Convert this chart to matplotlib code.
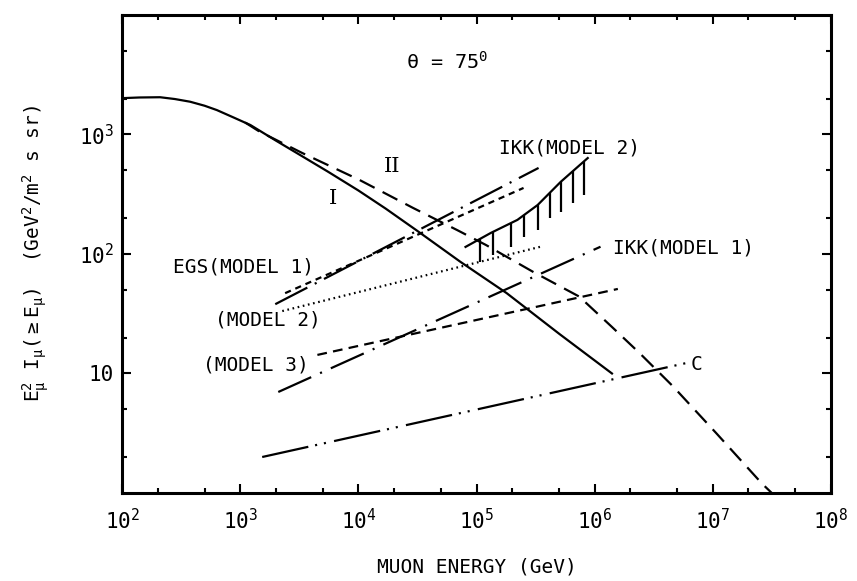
import numpy as np
import matplotlib
matplotlib.use("Agg")
import matplotlib.pyplot as plt
from matplotlib.ticker import LogLocator, NullFormatter

plt.rcParams['font.family'] = 'DejaVu Sans Mono'
plt.rcParams['mathtext.default'] = 'regular'
plt.rcParams['lines.scale_dashes'] = False

# curve I (solid)
E_I = [95, 140, 210, 280, 377, 500, 635, 890, 1220, 2000, 3200, 5500, 1e4, 1.7e4, 3.1e4, 7.3e4, 1.8e5, 5e5, 1.4e6]
flux_I = [2010, 2040, 2050, 1980, 1880, 1740, 1600, 1380, 1200, 890, 675, 490, 340, 240, 158, 86, 47, 21.5, 10]

# curve II (dashed)
E_II = [1100, 1450, 3350, 1.02e4, 2.9e4, 6.9e4, 1.2e5, 3e5, 7.4e5, 1.4e6, 2.4e6, 4.6e6, 1.07e7, 2.6e7, 3.4e7]
flux_II = [1260, 1060, 700, 417, 243, 158, 119, 71, 44, 24.5, 14.8, 7.8, 3.16, 1.2, 0.93]

# straight model lines (end points)
egs1_E, egs1_flux = [2400, 2.5e5], [47, 357]
ikk2_E, ikk2_flux = [1980, 3.35e5], [38, 525]
egs2_E, egs2_flux = [2270, 3.48e5], [33.3, 115]
egs3_E, egs3_flux = [4500, 1.57e6], [14.3, 51]
ikk1_E, ikk1_flux = [2100, 1.12e6], [7.0, 115]
C_E, C_flux = [1535, 5.9e6], [2.0, 12.2]

# IKK model 2 band (hatched)
band_E = [8.07e4, 1.32e5, 2.22e5, 3.29e5, 5.15e5, 8.73e5]
band_flux = [114.6, 150, 193, 257, 401, 635]
hatch_E = [1.08e5, 1.39e5, 1.94e5, 2.5e5, 3.29e5, 4.16e5, 5.15e5, 6.52e5, 8.07e5]
hatch_low = [86, 98, 115, 140, 159, 200, 226, 267, 312]

fig = plt.figure(figsize=(8.57, 5.81), dpi=100)
ax = fig.add_axes([0.1424, 0.1515, 0.8273, 0.8227])
ax.set_xscale('log')
ax.set_yscale('log')
ax.set_xlim(1e2, 1e8)
ax.set_ylim(1, 1e4)

lw = 1.6
ax.plot(E_I, flux_I, color='k', lw=lw)
ax.plot(E_II, flux_II, color='k', lw=lw, dashes=(12, 6.5))
ax.plot(egs1_E, egs1_flux, color='k', lw=lw, dashes=(4.5, 3.5))
ax.plot(ikk2_E, ikk2_flux, color='k', lw=lw, dashes=(26, 6, 1.5, 6))
ax.plot(egs2_E, egs2_flux, color='k', lw=lw, dashes=(1.2, 2.6))
ax.plot(egs3_E, egs3_flux, color='k', lw=lw, dashes=(7, 4.5))
ax.plot(ikk1_E, ikk1_flux, color='k', lw=lw, dashes=(26, 7, 1.5, 7))
ax.plot(C_E, C_flux, color='k', lw=lw, dashes=(34, 5, 1.5, 5, 1.5, 6))

ax.plot(band_E, band_flux, color='k', lw=lw)
hatch_top = 10 ** np.interp(np.log10(hatch_E), np.log10(band_E), np.log10(band_flux))
ax.vlines(hatch_E, hatch_low, hatch_top, color='k', lw=lw)

# texts
ax.text(5.68e4, 4050, r'θ = 75$^{0}$', fontsize=14.5, ha='center', va='center')
ax.text(1.94e4, 535, 'II', fontsize=15, family='DejaVu Serif', ha='center', va='center')
ax.text(6140, 294, 'I', fontsize=15, family='DejaVu Serif', ha='center', va='center')
ax.text(1.535e5, 771, 'IKK(MODEL 2)', fontsize=14, ha='left', va='center')
ax.text(1.42e6, 112, 'IKK(MODEL 1)', fontsize=14, ha='left', va='center')
ax.text(270, 77.8, 'EGS(MODEL 1)', fontsize=14, ha='left', va='center')
ax.text(614, 28.1, '(MODEL 2)', fontsize=14, ha='left', va='center')
ax.text(485, 11.8, '(MODEL 3)', fontsize=14, ha='left', va='center')
ax.text(6.46e6, 11.8, 'C', fontsize=14, ha='left', va='center')

xt = [1e2, 1e3, 1e4, 1e5, 1e6, 1e7, 1e8]
ax.set_xticks(xt, labels=['10$^{%d}$' % k for k in range(2, 9)])
ax.set_yticks([10, 100, 1000], labels=['10', '10$^{2}$', '10$^{3}$'])
for a in (ax.xaxis, ax.yaxis):
    a.set_minor_locator(LogLocator(base=10, subs=(2.0, 5.0), numticks=20))
    a.set_minor_formatter(NullFormatter())
ax.tick_params(which='both', direction='in', top=True, right=True, width=1.5)
ax.tick_params(which='major', length=6.5, labelsize=15)
ax.tick_params(axis='x', which='major', pad=11)
ax.tick_params(axis='y', which='major', pad=6)
ax.tick_params(which='minor', length=3.6)
for s in ax.spines.values():
    s.set_linewidth(2.2)

ax.set_xlabel('MUON ENERGY (GeV)', fontsize=14)
ax.xaxis.set_label_coords(0.5, -0.135)
ax.set_ylabel(r'E$_{\mu}^{2}$ I$_{\mu}$($\geq$E$_{\mu}$)  (GeV$^{2}$/m$^{2}$ s sr)', fontsize=14)
ax.yaxis.set_label_coords(-0.10, 0.5)

fig.savefig('out.png', dpi=100)
